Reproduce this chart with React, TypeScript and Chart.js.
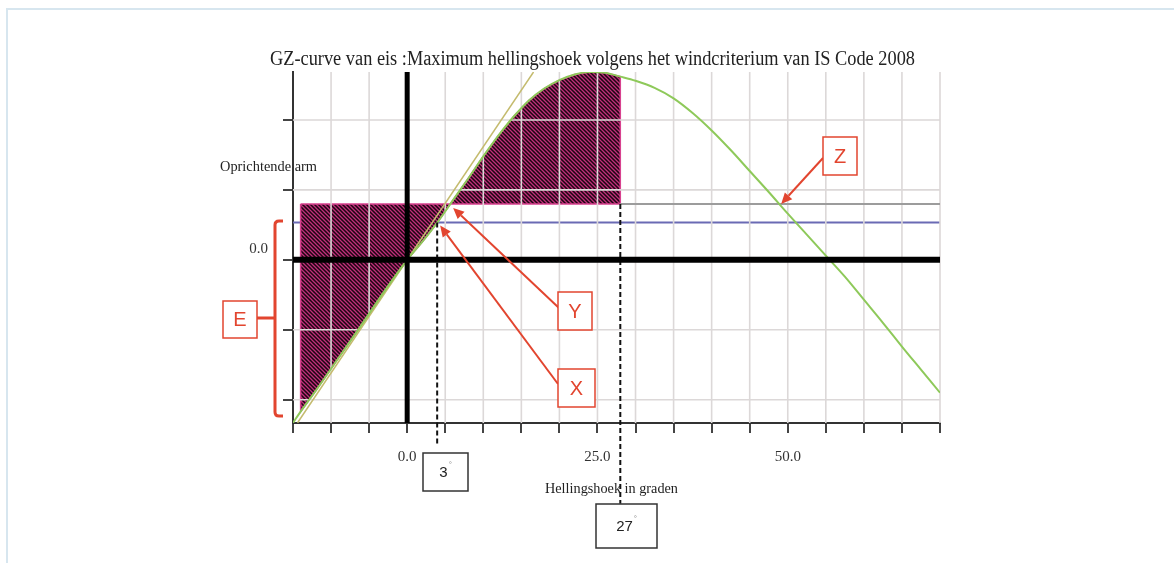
import React, { useEffect, useRef } from 'react';
import { Chart, registerables } from 'chart.js';

Chart.register(...registerables);

// ---- texts ----
const TITLE = 'GZ-curve van eis :Maximum hellingshoek volgens het windcriterium van IS Code 2008';
const Y_TITLE = 'Oprichtende arm';
const X_TITLE = 'Hellingshoek in graden';

// ---- axes ----
const X_MIN = -15;
const X_MAX = 70;
const X_STEP = 5;
const Y_MIN = -0.2333;
const Y_MAX = 0.2686;
const Y_STEP = 0.1;
const X_LABELED = [0, 25, 50];
const Y_LABELED = [0];

// ---- GZ curve (heeling angle in degrees, righting arm) ----
const GZ_ANGLES = [-15, -14, -12, -9, -6, -3, 0, 2, 4, 6, 8, 10, 12, 14, 16, 18, 20, 22, 24, 26, 28, 30, 32.5, 35, 37.5, 40, 42.5, 45, 47.5, 50, 52.5, 55, 57.5, 60, 62.5, 65, 67.5, 70];
const GZ_VALUES = [-0.233, -0.217, -0.187, -0.14, -0.093, -0.045, 0, 0.026, 0.054, 0.085, 0.116, 0.148, 0.178, 0.205, 0.228, 0.245, 0.257, 0.265, 0.2685, 0.2675, 0.262, 0.256, 0.246, 0.231, 0.21, 0.185, 0.157, 0.127, 0.097, 0.066, 0.036, 0.006, -0.024, -0.057, -0.09, -0.124, -0.157, -0.19];

// ---- initial GM tangent ----
const TANGENT_X = [-14.4, 16.6];
const TANGENT_Y = [-0.233, 0.2686];

// ---- wind heeling levers ----
const LW1 = 0.0533; // steady wind lever (blue)
const LW2 = 0.08; // gust wind lever (grey)
const LW1_RANGE = [-15, 70];
const LW2_RANGE = [28, 70];

// ---- hatched areas ----
const HATCH_START = -14;
const HATCH_END = 28;

// ---- marked angles ----
const X_ANGLE = 3.94; // equilibrium with lw1
const Y_ANGLE = 5.25; // intersection with lw2
const Z_ANGLE = 49.0; // second intersection with lw2
const DASH_ANGLES = [3.94, 28];
const DASH_TOP = [LW1, LW2];
const DASH_BOTTOM = [-0.267, -0.3486];
const ANGLE_LABELS = ['3', '27'];

function fitText(ctx: CanvasRenderingContext2D, text: string, x0: number, x1: number, baseline: number, font: string, color: string) {
  ctx.save();
  ctx.font = font;
  ctx.fillStyle = color;
  ctx.textAlign = 'left';
  ctx.textBaseline = 'alphabetic';
  const w = ctx.measureText(text).width;
  ctx.translate(x0, baseline);
  ctx.scale((x1 - x0) / w, 1);
  ctx.fillText(text, 0, 0);
  ctx.restore();
}

function arrow(ctx: CanvasRenderingContext2D, x0: number, y0: number, x1: number, y1: number, color: string) {
  const ang = Math.atan2(y1 - y0, x1 - x0);
  const head = 11;
  const half = 5;
  const bx = x1 - head * Math.cos(ang);
  const by = y1 - head * Math.sin(ang);
  ctx.save();
  ctx.strokeStyle = color;
  ctx.fillStyle = color;
  ctx.lineWidth = 2;
  ctx.beginPath();
  ctx.moveTo(x0, y0);
  ctx.lineTo(bx, by);
  ctx.stroke();
  ctx.beginPath();
  ctx.moveTo(x1, y1);
  ctx.lineTo(bx + half * Math.sin(ang), by - half * Math.cos(ang));
  ctx.lineTo(bx - half * Math.sin(ang), by + half * Math.cos(ang));
  ctx.closePath();
  ctx.fill();
  ctx.restore();
}

const RED = '#e2452f';

function letterBox(ctx: CanvasRenderingContext2D, x: number, y: number, w: number, h: number, letter: string) {
  ctx.save();
  ctx.fillStyle = '#ffffff';
  ctx.fillRect(x, y, w, h);
  ctx.strokeStyle = RED;
  ctx.lineWidth = 1.5;
  ctx.strokeRect(x, y, w, h);
  ctx.fillStyle = RED;
  ctx.font = '20px "Liberation Sans"';
  ctx.textAlign = 'center';
  ctx.textBaseline = 'middle';
  ctx.fillText(letter, x + w / 2, y + h / 2 + 1);
  ctx.restore();
}

function angleBox(ctx: CanvasRenderingContext2D, x: number, y: number, w: number, h: number, text: string) {
  ctx.save();
  ctx.fillStyle = '#ffffff';
  ctx.fillRect(x, y, w, h);
  ctx.strokeStyle = '#333';
  ctx.lineWidth = 1.5;
  ctx.strokeRect(x, y, w, h);
  ctx.fillStyle = '#222';
  ctx.font = '15px "Liberation Sans"';
  ctx.textAlign = 'center';
  ctx.textBaseline = 'middle';
  const tw = ctx.measureText(text).width;
  const cx = x + w / 2 - 2;
  ctx.fillText(text, cx, y + h / 2 + 1);
  ctx.font = '8px "Liberation Sans"';
  ctx.fillStyle = '#888';
  ctx.textAlign = 'left';
  ctx.fillText('°', cx + tw / 2 + 1, y + h / 2 - 7);
  ctx.restore();
}

const HATCH_INDEX = 5;

const gridPlugin = {
  id: 'gridOverHatch',
  afterDatasetDraw(chart: any, args: any) {
    if (args.index !== HATCH_INDEX) return;
    const { ctx, chartArea } = chart;
    const xs = chart.scales.x;
    const ys = chart.scales.y;
    ctx.save();
    ctx.strokeStyle = '#dcd8d8';
    ctx.lineWidth = 1.6;
    ctx.beginPath();
    xs.ticks.forEach((t: any) => {
      if (t.value === X_MIN) return;
      const px = xs.getPixelForValue(t.value);
      ctx.moveTo(px, chartArea.top);
      ctx.lineTo(px, chartArea.bottom);
    });
    ys.ticks.forEach((t: any) => {
      const py = ys.getPixelForValue(t.value);
      ctx.moveTo(chartArea.left, py);
      ctx.lineTo(chartArea.right, py);
    });
    ctx.stroke();
    ctx.restore();
  },
};

const overlayPlugin = {
  id: 'overlay',
  afterDraw(chart: any) {
    const ctx: CanvasRenderingContext2D = chart.ctx;
    const xs = chart.scales.x;
    const ys = chart.scales.y;
    ctx.save();
    // frame of the figure
    ctx.strokeStyle = '#d7e6ef';
    ctx.lineWidth = 2;
    ctx.beginPath();
    ctx.moveTo(7, 563);
    ctx.lineTo(7, 9);
    ctx.lineTo(1174, 9);
    ctx.stroke();

    // titles
    fitText(ctx, TITLE, 270, 915, 65, '20px "Liberation Serif"', '#222');
    fitText(ctx, Y_TITLE, 220, 317, 171, '14px "Liberation Serif"', '#222');
    fitText(ctx, X_TITLE, 545, 678, 493, '15px "Liberation Serif"', '#222');

    // arrows to X, Y, Z
    const xPt = { x: xs.getPixelForValue(X_ANGLE), y: ys.getPixelForValue(LW1) };
    const yPt = { x: xs.getPixelForValue(Y_ANGLE), y: ys.getPixelForValue(LW2) };
    const zPt = { x: xs.getPixelForValue(Z_ANGLE), y: ys.getPixelForValue(LW2) };
    arrow(ctx, 559, 308, yPt.x + 6, yPt.y + 4, RED);
    arrow(ctx, 558, 384, xPt.x + 3, xPt.y + 3, RED);
    arrow(ctx, 823, 158, zPt.x + 1, zPt.y, RED);
    letterBox(ctx, 558, 292, 34, 38, 'Y');
    letterBox(ctx, 558, 369, 37, 38, 'X');
    letterBox(ctx, 823, 137, 34, 38, 'Z');

    // E bracket
    ctx.strokeStyle = RED;
    ctx.lineWidth = 3;
    ctx.beginPath();
    ctx.moveTo(283, 221);
    ctx.lineTo(279, 221);
    ctx.quadraticCurveTo(275, 221, 275, 225);
    ctx.lineTo(275, 412);
    ctx.quadraticCurveTo(275, 416, 279, 416);
    ctx.lineTo(283, 416);
    ctx.moveTo(257, 318);
    ctx.lineTo(275, 318);
    ctx.stroke();
    letterBox(ctx, 223, 301, 34, 37, 'E');

    // angle boxes
    angleBox(ctx, 423, 453, 45, 38, ANGLE_LABELS[0]);
    angleBox(ctx, 596, 504, 61, 44, ANGLE_LABELS[1]);
    ctx.restore();
  },
};

function makeHatch(): CanvasPattern | string {
  const p = document.createElement('canvas');
  p.width = 4;
  p.height = 4;
  const c = p.getContext('2d');
  if (!c) return '#3a0f2a';
  c.fillStyle = '#1c0512';
  c.fillRect(0, 0, 4, 4);
  c.strokeStyle = '#c0307a';
  c.lineWidth = 1.3;
  c.beginPath();
  c.moveTo(-1, -1);
  c.lineTo(5, 5);
  c.moveTo(-1, 3);
  c.lineTo(1, 5);
  c.moveTo(3, -1);
  c.lineTo(5, 1);
  c.stroke();
  const pat = c.createPattern(p, 'repeat');
  return pat || '#3a0f2a';
}

export default function App() {
  const ref = useRef<HTMLCanvasElement>(null);

  useEffect(() => {
    if (!ref.current) return;
    const gz = GZ_ANGLES.map((a, i) => ({ x: a, y: GZ_VALUES[i] }));
    const hatchBottom = gz.filter((p) => p.x >= HATCH_START && p.x <= HATCH_END).reverse();
    const hatchData = [
      { x: HATCH_START, y: LW2 },
      { x: HATCH_END, y: LW2 },
      ...hatchBottom,
      { x: HATCH_START, y: LW2 },
    ];
    const base = { pointRadius: 0, pointHoverRadius: 0, tension: 0, fill: false };
    const datasets: any[] = [
      { ...base, label: 'GZ', data: gz, borderColor: '#8ec95a', borderWidth: 2, cubicInterpolationMode: 'monotone', order: 1 },
      { ...base, label: 'GM', data: TANGENT_X.map((x, i) => ({ x, y: TANGENT_Y[i] })), borderColor: '#c4bb6e', borderWidth: 1.5, order: 2 },
      { ...base, label: 'zero', data: [{ x: X_MIN, y: 0 }, { x: X_MAX, y: 0 }], borderColor: '#000', borderWidth: 6, order: 0 },
      { ...base, label: 'vertical', data: [{ x: 0, y: Y_MIN }, { x: 0, y: Y_MAX }], borderColor: '#000', borderWidth: 5, order: 0 },
      { ...base, label: 'lw2', data: LW2_RANGE.map((x) => ({ x, y: LW2 })), borderColor: '#9c9c9c', borderWidth: 2, order: 3 },
      { ...base, label: 'hatch', data: hatchData, borderColor: '#d8418f', borderWidth: 1.5, backgroundColor: makeHatch(), fill: 'shape', order: 5 },
      { ...base, label: 'lw1', data: LW1_RANGE.map((x) => ({ x, y: LW1 })), borderColor: '#6a6ab4', borderWidth: 2, order: 6 },
      ...DASH_ANGLES.map((a, i) => ({
        ...base,
        label: 'dash' + i,
        data: [{ x: a, y: DASH_TOP[i] }, { x: a, y: DASH_BOTTOM[i] }],
        borderColor: '#111',
        borderWidth: 2,
        borderDash: [5, 3],
        clip: false,
        order: 0,
      })),
    ];

    const tickFont = { family: '"Liberation Serif"', size: 15 };
    const chart = new Chart(ref.current, {
      type: 'line',
      data: { datasets },
      options: {
        animation: false,
        responsive: false,
        devicePixelRatio: 1,
        layout: { padding: { left: 213, right: 234, top: 72, bottom: 100 } },
        plugins: { legend: { display: false }, tooltip: { enabled: false }, title: { display: false } },
        scales: {
          x: {
            type: 'linear',
            min: X_MIN,
            max: X_MAX,
            afterFit: (s: any) => {
              s.height = 40;
            },
            ticks: {
              stepSize: X_STEP,
              autoSkip: false,
              maxRotation: 0,
              includeBounds: false,
              padding: 15,
              color: '#333',
              font: tickFont,
              callback: (v: any) => (X_LABELED.some((l) => Math.abs(l - v) < 1e-9) ? Number(v).toFixed(1) : ''),
            },
            grid: { drawOnChartArea: false, drawTicks: true, tickLength: 10, color: '#444', lineWidth: 2 },
            border: { display: true, color: '#333', width: 2 },
          },
          y: {
            type: 'linear',
            min: Y_MIN,
            max: Y_MAX,
            afterFit: (s: any) => {
              s.width = 80;
            },
            ticks: {
              stepSize: Y_STEP,
              autoSkip: false,
              includeBounds: false,
              padding: 15,
              labelOffset: -11,
              color: '#333',
              font: tickFont,
              callback: (v: any) => (Y_LABELED.some((l) => Math.abs(l - v) < 1e-9) ? '0.0' : ''),
            },
            grid: { drawOnChartArea: false, drawTicks: true, tickLength: 10, color: '#444', lineWidth: 2 },
            border: { display: true, color: '#333', width: 2 },
          },
        },
      },
      plugins: [gridPlugin, overlayPlugin],
    } as any);
    return () => chart.destroy();
  }, []);

  return (
    <div style={{ position: 'fixed', left: 0, top: 0, width: 1174, height: 563, background: '#fff' }}>
      <canvas ref={ref} width={1174} height={563} style={{ width: 1174, height: 563, display: 'block' }} />
    </div>
  );
}
